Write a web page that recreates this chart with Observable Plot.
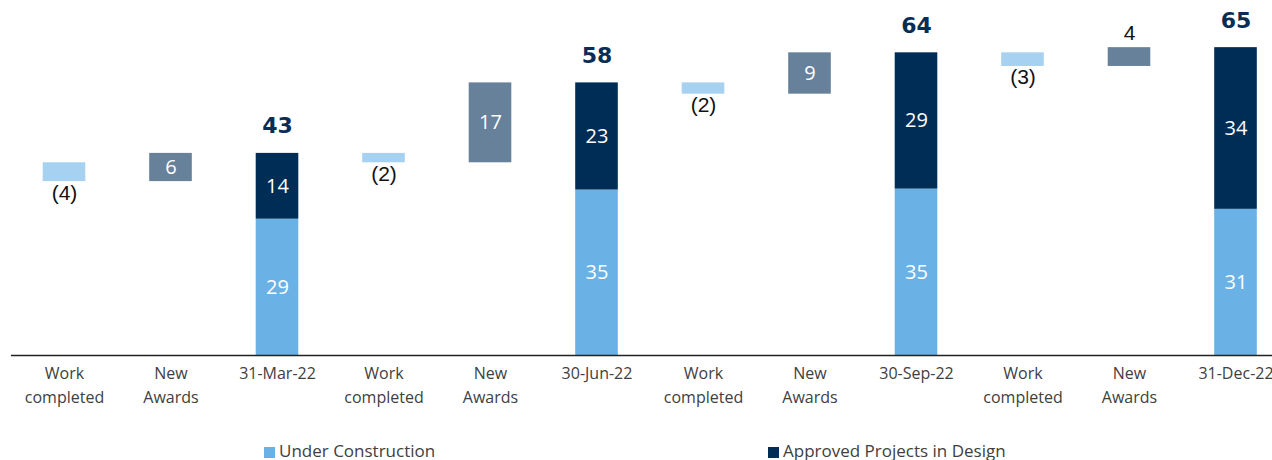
<!DOCTYPE html>
<html>
<head>
<meta charset="utf-8">
<script src="https://cdn.jsdelivr.net/npm/d3@7"></script>
<script src="https://cdn.jsdelivr.net/npm/@observablehq/plot@0.6"></script>
<style>
  body { margin: 0; background: #fff; font-family: "Open Sans", sans-serif; }
  #chart { position: relative; width: 1272px; }
  #legend { position: relative; width: 1272px; height: 24px; font-size: 17px; color: #404040; line-height: 24px; top: 3px; }
  .item { position: absolute; top: 0; white-space: nowrap; }
  .sw { display: inline-block; width: 11px; height: 11px; margin-right: 4px; vertical-align: -1px; }
</style>
</head>
<body>
<div id="chart"></div>
<div id="legend">
  <span class="item" style="left:264px"><span class="sw" style="background:#6ab2e5"></span>Under Construction</span>
  <span class="item" style="left:768px"><span class="sw" style="background:#002d56"></span>Approved Projects in Design</span>
</div>
<script>
const categories = ["Work completed", "New Awards", "31-Mar-22", "Work completed", "New Awards", "30-Jun-22",
                    "Work completed", "New Awards", "30-Sep-22", "Work completed", "New Awards", "31-Dec-22"];
const kinds = ["wc", "na", "total", "wc", "na", "total", "wc", "na", "total", "wc", "na", "total"];
const stepStart = [41, 37, null, 43, 41, null, 58, 55.6, null, 64.4, 61.5, null];
const stepEnd   = [37, 43, null, 41, 58, null, 55.6, 64.4, null, 61.5, 65.5, null];
const stepLabels = ["(4)", "6", null, "(2)", "17", null, "(2)", "9", null, "(3)", "4", null];
const underConstruction = [null, null, 29, null, null, 35.2, null, null, 35.4, null, null, 31.1];
const approvedDesign    = [null, null, 14, null, null, 22.8, null, null, 29, null, null, 34.4];
const ucLabels  = [null, null, "29", null, null, "35", null, null, "35", null, null, "31"];
const apdLabels = [null, null, "14", null, null, "23", null, null, "29", null, null, "34"];
const totalLabels = [null, null, "43", null, null, "58", null, null, "64", null, null, "65"];

const C_WC = "#a6d1f0", C_NA = "#67819b", C_UC = "#6ab2e5", C_APD = "#002d56";

const idx = d3.range(categories.length);
const steps = idx.filter(i => kinds[i] !== "total").map(i => ({
  i, kind: kinds[i], y1: stepStart[i], y2: stepEnd[i], label: stepLabels[i],
  top: Math.max(stepStart[i], stepEnd[i]), bottom: Math.min(stepStart[i], stepEnd[i])
}));
const totals = idx.filter(i => kinds[i] === "total").map(i => ({
  i, uc: underConstruction[i], apd: approvedDesign[i],
  ucLabel: ucLabels[i], apdLabel: apdLabels[i], total: totalLabels[i]
}));
const stacks = totals.flatMap(d => [
  {i: d.i, series: "uc", y1: 0, y2: d.uc, label: d.ucLabel},
  {i: d.i, series: "apd", y1: d.uc, y2: d.uc + d.apd, label: d.apdLabel}
]);
const tall = d => (d.top - d.bottom) >= 5;

const labelFont = "Open Sans, sans-serif";
const chart = Plot.plot({
  width: 1272,
  height: 436,
  marginLeft: 11,
  marginRight: 0,
  marginTop: 0,
  marginBottom: 81,
  style: {fontFamily: labelFont, background: "#fff"},
  x: {type: "band", domain: idx, range: [10.75, 1288.75], paddingInner: 0.6, paddingOuter: 0.3, align: 0.5, round: false, axis: null},
  y: {domain: [0, 70], range: [355, 355 - 70 * 4.7], axis: null},
  marks: [
    Plot.barY(steps, {x: "i", y1: "y1", y2: "y2", fill: d => d.kind === "wc" ? C_WC : C_NA}),
    Plot.barY(stacks, {x: "i", y1: "y1", y2: "y2", fill: d => d.series === "uc" ? C_UC : C_APD}),
    // work completed labels below bars
    Plot.text(steps.filter(d => d.kind === "wc"), {x: "i", y: "bottom", text: "label", lineAnchor: "top", dy: 3,
      fontSize: 21, fill: "#111", fontFamily: "Liberation Sans, Arial, sans-serif"}),
    // new awards labels inside tall bars
    Plot.text(steps.filter(d => d.kind === "na" && tall(d)), {
      x: "i", y: d => (d.top + d.bottom) / 2, text: "label", fontSize: 20, fill: "#fff"}),
    // new awards label above short bars
    Plot.text(steps.filter(d => d.kind === "na" && !tall(d)), {
      x: "i", y: "top", text: "label", lineAnchor: "bottom", dy: -8,
      fontSize: 21, fill: "#111", fontFamily: "Liberation Sans, Arial, sans-serif"}),
    // stack labels
    Plot.text(stacks, {x: "i", y: d => (d.y1 + d.y2) / 2, text: "label", fontSize: 20, fill: "#fff"}),
    // total labels
    Plot.text(totals, {x: "i", y: d => d.uc + d.apd, text: "total", lineAnchor: "bottom", dy: -20,
      fontSize: 22, fontWeight: "bold", fill: "#0a2d55", fontFamily: "DejaVu Sans, sans-serif"}),
    Plot.ruleY([0], {stroke: "#222", strokeWidth: 1.5}),
    Plot.axisX({
      tickSize: 0, tickPadding: 6, fontSize: 16, lineHeight: 1.5, fill: "#404040",
      tickFormat: i => categories[i].replace(" ", "\n"), label: null
    })
  ]
});
document.getElementById("chart").appendChild(chart);
</script>
</body>
</html>
